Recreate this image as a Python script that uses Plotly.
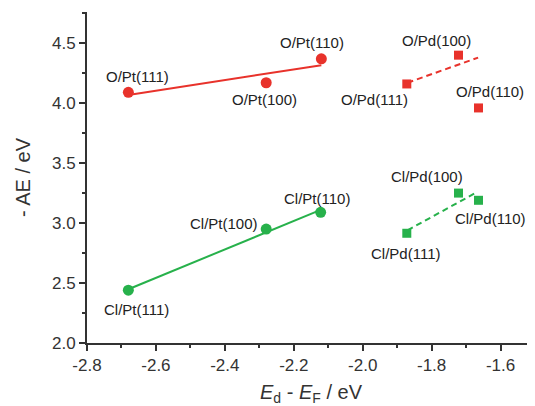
import numpy as np
import plotly.graph_objects as go

# data
o_pt_x = [-2.68, -2.28, -2.12]
o_pt_y = [4.09, 4.17, 4.37]
o_pt_lab = ["O/Pt(111)", "O/Pt(100)", "O/Pt(110)"]

o_pd_x = [-1.872, -1.722, -1.664]
o_pd_y = [4.16, 4.40, 3.96]
o_pd_lab = ["O/Pd(111)", "O/Pd(100)", "O/Pd(110)"]

cl_pt_x = [-2.68, -2.28, -2.122]
cl_pt_y = [2.44, 2.95, 3.09]
cl_pt_lab = ["Cl/Pt(111)", "Cl/Pt(100)", "Cl/Pt(110)"]

cl_pd_x = [-1.872, -1.722, -1.664]
cl_pd_y = [2.915, 3.25, 3.19]
cl_pd_lab = ["Cl/Pd(111)", "Cl/Pd(100)", "Cl/Pd(110)"]

# dashed guide lines for Pd (as drawn)
o_pd_fit_x = [-1.87, -1.665]
o_pd_fit_y = [4.17, 4.38]
cl_pd_fit_x = [-1.87, -1.667]
cl_pd_fit_y = [2.94, 3.26]

RED = "#e8322b"
GREEN = "#27b14b"
FONT = "Liberation Sans, Arial"

fig = go.Figure()

def fitline(x, y):
    p = np.polyfit(x, y, 1)
    xs = np.array([min(x), max(x)])
    return xs, np.polyval(p, xs)

for xs, ys, col in [(o_pt_x, o_pt_y, RED), (cl_pt_x, cl_pt_y, GREEN)]:
    fx, fy = fitline(xs, ys)
    fig.add_trace(go.Scatter(x=fx, y=fy, mode="lines", line=dict(color=col, width=2), showlegend=False))

fig.add_trace(go.Scatter(x=o_pd_fit_x, y=o_pd_fit_y, mode="lines", line=dict(color=RED, width=2, dash="6px,4px"), showlegend=False))
fig.add_trace(go.Scatter(x=cl_pd_fit_x, y=cl_pd_fit_y, mode="lines", line=dict(color=GREEN, width=2, dash="6px,4px"), showlegend=False))

fig.add_trace(go.Scatter(x=o_pt_x, y=o_pt_y, mode="markers", marker=dict(symbol="circle", size=11, color=RED), showlegend=False))
fig.add_trace(go.Scatter(x=cl_pt_x, y=cl_pt_y, mode="markers", marker=dict(symbol="circle", size=11, color=GREEN), showlegend=False))
fig.add_trace(go.Scatter(x=o_pd_x, y=o_pd_y, mode="markers", marker=dict(symbol="square", size=9, color=RED), showlegend=False))
fig.add_trace(go.Scatter(x=cl_pd_x, y=cl_pd_y, mode="markers", marker=dict(symbol="square", size=9, color=GREEN), showlegend=False))

# label offsets in pixels (dx right, dy down)
offsets = {
    "O/Pt(111)": (9, -16), "O/Pt(100)": (-2, 17), "O/Pt(110)": (-9, -16),
    "O/Pd(111)": (-32, 16), "O/Pd(100)": (-22, -15), "O/Pd(110)": (12, -16),
    "Cl/Pt(111)": (8, 19), "Cl/Pt(100)": (-42, -6), "Cl/Pt(110)": (-4, -14),
    "Cl/Pd(111)": (-1, 20), "Cl/Pd(100)": (-32, -17), "Cl/Pd(110)": (12, 18),
}
for xs, ys, labs in [(o_pt_x, o_pt_y, o_pt_lab), (o_pd_x, o_pd_y, o_pd_lab),
                     (cl_pt_x, cl_pt_y, cl_pt_lab), (cl_pd_x, cl_pd_y, cl_pd_lab)]:
    for x, y, t in zip(xs, ys, labs):
        dx, dy = offsets[t]
        fig.add_annotation(x=x, y=y, text=t, showarrow=False, xshift=dx, yshift=-dy,
                           font=dict(family=FONT, size=15, color="#222"))

axis_common = dict(showline=True, linecolor="#333", linewidth=2, ticks="outside", ticklen=6,
                   tickwidth=2, tickcolor="#333", showgrid=False, zeroline=False,
                   tickfont=dict(family=FONT, size=17, color="#333"))

fig.update_xaxes(range=[-2.8, -1.5], tickvals=[-2.8, -2.6, -2.4, -2.2, -2.0, -1.8, -1.6],
                 ticktext=["-2.8", "-2.6", "-2.4", "-2.2", "-2.0", "-1.8", "-1.6"],
                 minor=dict(ticks="outside", dtick=0.1, tick0=-2.8, ticklen=3, tickwidth=2, tickcolor="#333"),
                 title=dict(text="<i>E</i><sub>d</sub> - <i>E</i><sub>F</sub> / eV", standoff=11,
                            font=dict(family=FONT, size=20, color="#333")),
                 **axis_common)
fig.update_yaxes(range=[2.0, 4.76], tickvals=[2.0, 2.5, 3.0, 3.5, 4.0, 4.5],
                 ticktext=["2.0", "2.5", "3.0", "3.5", "4.0", "4.5"],
                 minor=dict(ticks="outside", dtick=0.25, tick0=2.0, ticklen=3, tickwidth=2, tickcolor="#333"),
                 title=dict(text="- AE / eV", standoff=16,
                            font=dict(family=FONT, size=20, color="#333")),
                 **axis_common)

# page body has an 8px margin, so the figure is drawn 8px smaller and offset
fig.update_layout(width=527, height=398, margin=dict(l=79, r=0, t=4, b=63),
                  plot_bgcolor="white", paper_bgcolor="white")

fig.write_html("out.html")
